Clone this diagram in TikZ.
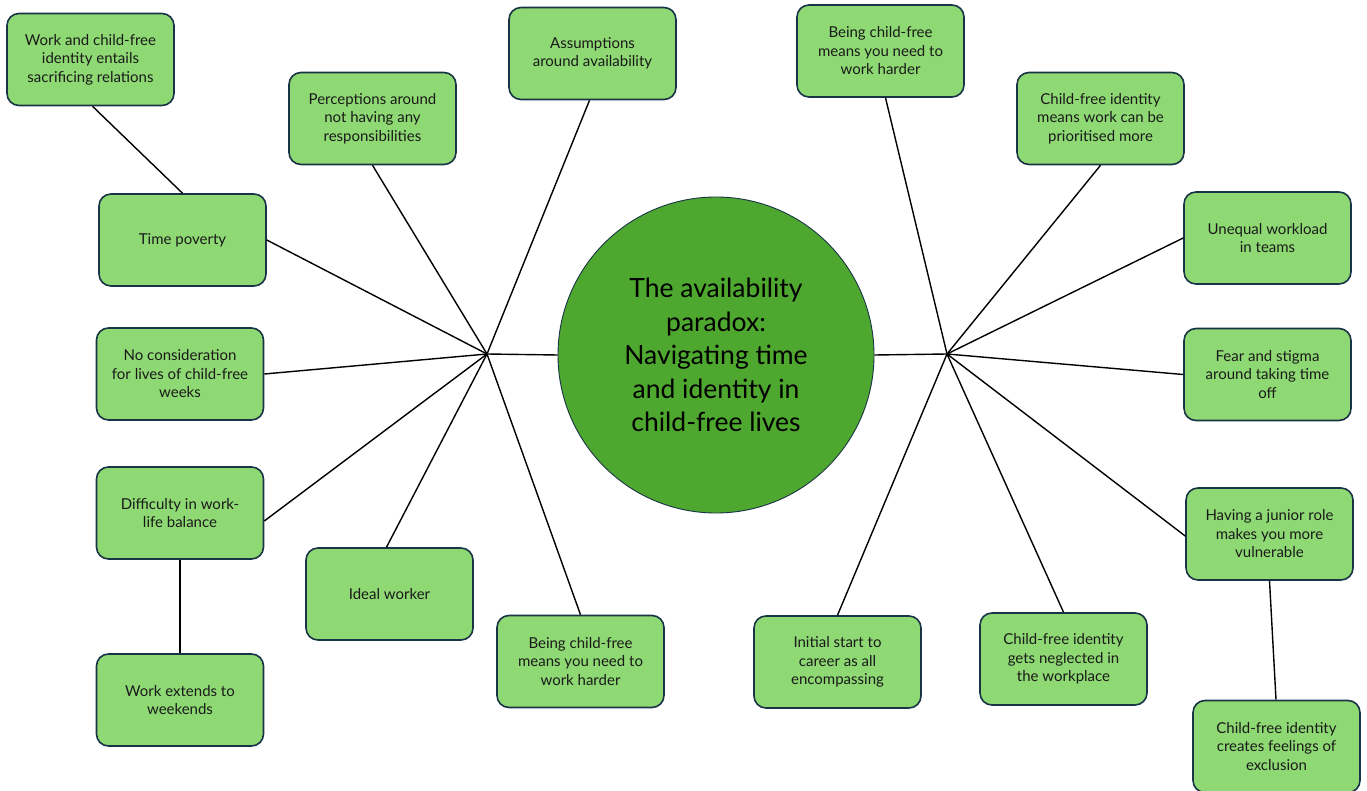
\documentclass[tikz,border=0pt]{standalone}
\usepackage{fontspec}
\setmainfont{Lato}
\definecolor{boxfill}{HTML}{8ED973}
\definecolor{boxline}{HTML}{1A3447}
\definecolor{circfill}{HTML}{4EA72E}
\definecolor{txt}{HTML}{1A1A1A}
\tikzset{
  idea/.style={draw=boxline, line width=1.6pt, fill=boxfill, rounded corners=12pt,
    minimum width=167pt, minimum height=92pt, align=center, text=txt,
    font=\fontsize{15}{18.5}\selectfont, inner sep=0pt},
  link/.style={draw=black, line width=1.4pt},
  hubcirc/.style={circle, draw=boxline, line width=0.9pt, fill=circfill,
    minimum size=316pt, align=center, text=black, inner sep=0pt,
    font=\fontsize{26.5}{33.4}\selectfont}
}
\begin{document}
\begin{tikzpicture}[x=1pt,y=-1pt]
\useasboundingbox (0,0) rectangle (1367,791);
% central circle
\node[hubcirc] (core) at (716,355) {The availability\\paradox:\\Navigating time\\and identity in\\child-free lives};
\coordinate (hubL) at (487,354);
\coordinate (hubR) at (947,354);

% left side
\node[idea] (sacr) at (90.5,59.5) {Work and child-free\\identity entails\\sacrificing relations};
\node[idea] (perc) at (372.5,118.5) {Perceptions around\\not having any\\responsibilities};
\node[idea] (assum) at (592.5,53.5) {Assumptions\\around availability};
\node[idea] (timep) at (182.5,240) {Time poverty};
\node[idea] (nocons) at (180,374) {No consideration\\for lives of child-free\\weeks};
\node[idea] (diff) at (180,513) {Difficulty in work-\\life balance};
\node[idea] (weekend) at (180,700) {Work extends to\\weekends};
\node[idea] (ideal) at (389.5,594) {Ideal worker};
\node[idea] (hardL) at (580.5,661.5) {Being child-free\\means you need to\\work harder};

% right side
\node[idea] (hardR) at (880.5,51) {Being child-free\\means you need to\\work harder};
\node[idea] (prior) at (1100.5,118.5) {Child-free identity\\means work can be\\prioritised more};
\node[idea] (unequal) at (1267.5,238) {Unequal workload\\in teams};
\node[idea] (fear) at (1267.5,374.5) {Fear and stigma\\around taking time\\off};
\node[idea] (junior) at (1269.5,534) {Having a junior role\\makes you more\\vulnerable};
\node[idea] (excl) at (1276.5,746.5) {Child-free identity\\creates feelings of\\exclusion};
\node[idea] (negl) at (1063.5,659) {Child-free identity\\gets neglected in\\the workplace};
\node[idea] (initial) at (837.5,662) {Initial start to\\career as all\\encompassing};

% connectors left
\draw[link] (core.west) -- (hubL);
\draw[link] (hubL) -- (timep.east);
\draw[link] (hubL) -- (nocons.east);
\draw[link] (hubL) -- ([yshift=-8pt]diff.east);
\draw[link] (hubL) -- ([xshift=-3pt]ideal.north);
\draw[link] (hubL) -- (hardL.north);
\draw[link] (hubL) -- (perc.south);
\draw[link] (hubL) -- ([xshift=-3pt]assum.south);
\draw[link] ([xshift=2pt]sacr.south) -- (timep.north);
\draw[link] (diff.south) -- (weekend.north);

% connectors right
\draw[link] (core.east) -- (hubR);
\draw[link] (hubR) -- ([xshift=5pt]hardR.south);
\draw[link] (hubR) -- (prior.south);
\draw[link] (hubR) -- (unequal.west);
\draw[link] (hubR) -- (fear.west);
\draw[link] (hubR) -- ([yshift=-2pt]junior.west);
\draw[link] (hubR) -- (negl.north);
\draw[link] (hubR) -- (initial.north);
\draw[link] (junior.south) -- ([xshift=-0.5pt]excl.north);
\end{tikzpicture}
\end{document}
